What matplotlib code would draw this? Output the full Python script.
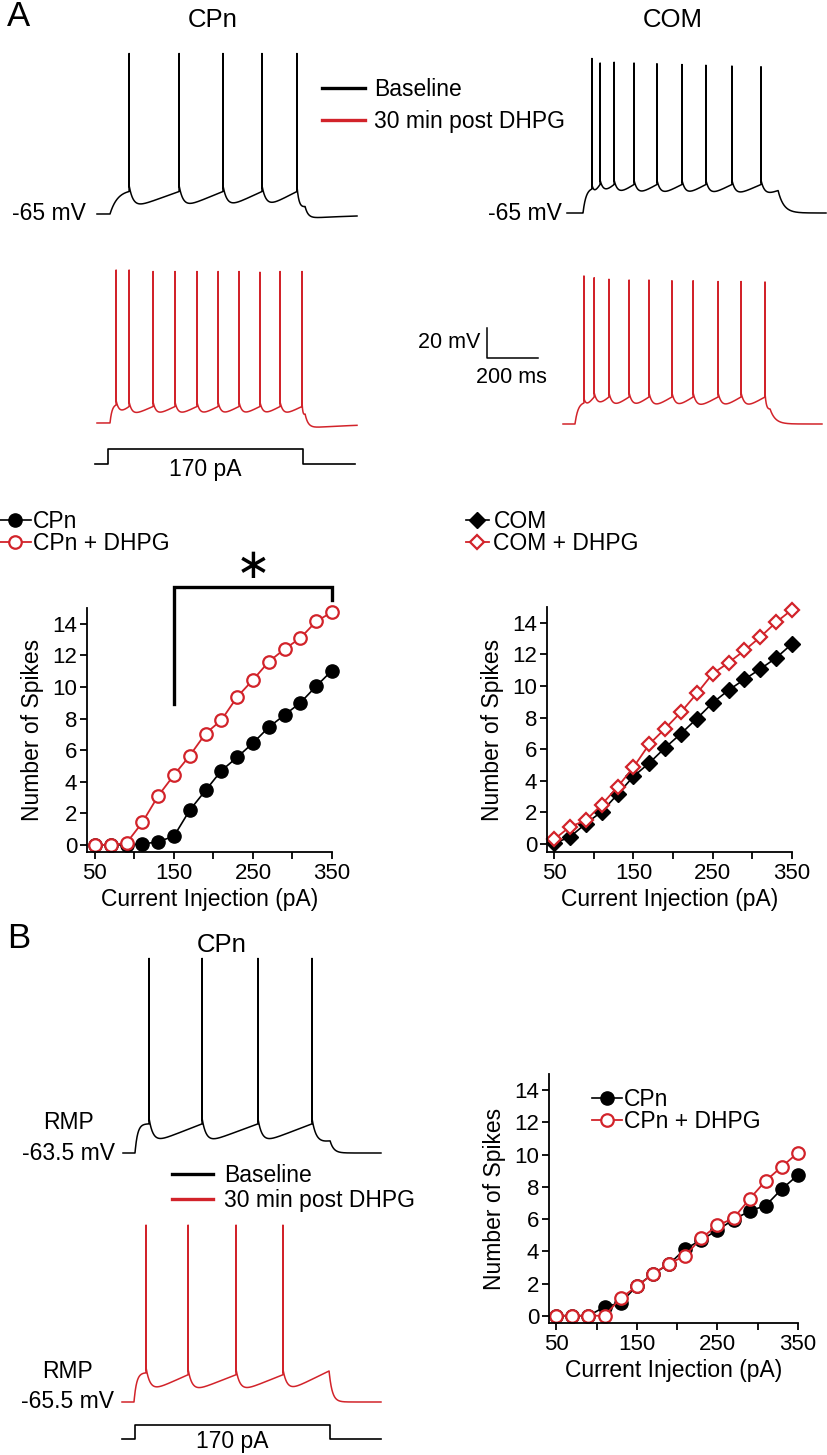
import numpy as np
import matplotlib
matplotlib.use("Agg")
import matplotlib.pyplot as plt
from matplotlib.lines import Line2D

plt.rcParams['font.family'] = ['Liberation Sans', 'DejaVu Sans']

# ---------------- data ----------------
current_pA = [50, 70, 90, 110, 130, 150, 170, 190, 210, 230, 250, 270, 290, 310, 330, 350]
cpn_spikes = [0, 0, 0, 0.05, 0.2, 0.55, 2.2, 3.45, 4.7, 5.55, 6.45, 7.45, 8.23, 9.0, 10.05, 11.04]
cpn_dhpg_spikes = [0, 0, 0.12, 1.42, 3.1, 4.42, 5.65, 7.05, 7.9, 9.37, 10.45, 11.6, 12.4, 13.1, 14.15, 14.74]
com_spikes = [0.05, 0.45, 1.3, 2.05, 3.15, 4.28, 5.13, 6.1, 6.99, 7.94, 8.94, 9.74, 10.42, 11.08, 11.78, 12.67]
com_dhpg_spikes = [0.3, 1.1, 1.5, 2.5, 3.62, 4.86, 6.32, 7.31, 8.35, 9.53, 10.78, 11.48, 12.25, 13.1, 14.04, 14.83]
b_cpn_spikes = [0, 0, 0, 0.55, 0.8, 1.85, 2.6, 3.2, 4.15, 4.7, 5.32, 5.96, 6.5, 6.84, 7.87, 8.73]
b_cpn_dhpg_spikes = [0, 0, 0, 0, 1.1, 1.82, 2.6, 3.23, 3.73, 4.82, 5.6, 6.05, 7.25, 8.38, 9.25, 10.12]

xticks = [50, 100, 150, 200, 250, 300, 350]
xticklabels = ['50', '', '150', '', '250', '', '350']
yticks = [0, 2, 4, 6, 8, 10, 12, 14]

# example traces: spike times (ms after step onset) and voltage levels (mV)
step_ms = 765
step_pA = 170
a_cpn_base_times = [75, 271, 443, 596, 733]
a_cpn_dhpg_times = [24, 75, 169, 255, 341, 424, 506, 588, 667, 753]
a_com_base_times = [35, 67, 122, 200, 290, 388, 482, 584, 698]
a_com_dhpg_times = [35, 75, 133, 212, 290, 380, 463, 561, 651, 745]
b_cpn_base_times = [55, 263, 482, 694]
b_cpn_dhpg_times = [47, 212, 400, 584]
a_com_base_peaks = [38, 35, 35.5, 35, 34.5, 34, 33.5, 33, 32.5]
a_com_dhpg_peaks = [33.7, 32.5, 31.5, 31, 31, 30.5, 30.5, 30, 30, 29.7]
a_cpn_dhpg_peaks = [37, 37, 36, 36, 36, 36, 36, 35.5, 36, 36]

RED = '#d2232a'
W, H = 828, 1455
fig = plt.figure(figsize=(W / 100, H / 100), dpi=100)


def px_axes(x0, y0, x1, y1):
    return fig.add_axes([x0 / W, 1 - y1 / H, (x1 - x0) / W, (y1 - y0) / H])


def scaled_axes(x0, y0, x1, y1, ox, oy, vx, vy, sx, sy):
    ax = px_axes(x0, y0, x1, y1)
    ax.set_xlim(vx + (x0 - ox) / sx, vx + (x1 - ox) / sx)
    ax.set_ylim(vy - (y1 - oy) / sy, vy + (oy - y0) / sy)
    ax.axis('off')
    return ax


def build_trace(pre, post, dur, spikes, rest, thr0, thr, trough, peaks,
                end_level, undershoot, tau_off, tau_on=15.0, adp=4.0, tau_d=16.0):
    t = np.arange(-pre, post, 0.2)
    v = np.full(t.shape, float(rest))
    s = np.asarray(spikes, float)
    m = (t >= 0) & (t < s[0])
    frac = (1 - np.exp(-t[m] / tau_on)) / (1 - np.exp(-s[0] / tau_on))
    v[m] = rest + (thr0 - rest) * frac
    for i, a in enumerate(s):
        last = i == len(s) - 1
        b = dur if last else s[i + 1]
        target = end_level if last else thr
        D = b - a
        m = (t >= a) & (t < b)
        u = t[m] - a
        start = (thr0 if i == 0 else thr) + adp
        td = min(tau_d, D / 4.0)
        ramp = trough + (target - trough) * u / D
        dec = np.exp(-u / td) - np.exp(-D / td) * u / D
        v[m] = ramp + (start - trough) * dec
    m = t >= dur
    u = t[m] - dur
    v[m] = (rest + (end_level - rest) * np.exp(-u / tau_off)
            - undershoot * (1 - np.exp(-u / tau_off)) * np.exp(-u / 250))
    pk = np.broadcast_to(np.asarray(peaks, float), s.shape)
    for a, p in zip(s, pk):
        i = np.searchsorted(t, a)
        v[i] = p
    return t, v


def trace_panel(onset_px, rest_px, x0, x1, rest, pxmv, color, label, label_off, rmp=False, **kw):
    pxms = 0.255
    ax = scaled_axes(x0 - 2, rest_px - 215, x1 + 2, rest_px + 25, onset_px, rest_px, 0, rest, pxms, pxmv)
    pre = (onset_px - x0) / pxms
    post = (x1 - onset_px) / pxms
    t, v = build_trace(pre, post, step_ms, rest=rest, **kw)
    ax.plot(t, v, color=color, lw=1.1, solid_joinstyle='round')
    ax.annotate(label, xy=(-pre, rest), xytext=(-label_off, 0), textcoords='offset points',
                ha='right', va='center', fontsize=16.5, annotation_clip=False)
    if rmp:
        ax.annotate('RMP', xy=(-pre, rest), xytext=(-label_off - 33, 22), textcoords='offset points',
                    ha='center', va='center', fontsize=16.5, annotation_clip=False)
    return ax


def step_panel(onset_px, low_px, high_px, x0, x1, text_dy):
    pxms = 0.255
    pxpa = (low_px - high_px) / step_pA
    ax = scaled_axes(x0 - 2, high_px - 10, x1 + 2, low_px + 10, onset_px, low_px, 0, 0, pxms, pxpa)
    pre = (onset_px - x0) / pxms
    post = (x1 - onset_px) / pxms
    ax.plot([-pre, 0, 0, step_ms, step_ms, post], [0, 0, step_pA, step_pA, 0, 0], color='black', lw=1.2)
    ax.annotate(f'{step_pA} pA', xy=(step_ms / 2, 0), xytext=(0, text_dy), textcoords='offset points',
                ha='center', va='center', fontsize=16.5, annotation_clip=False)


def fi_axes(box, xlim, ylim):
    ax = px_axes(*box)
    ax.set_xlim(*xlim)
    ax.set_ylim(*ylim)
    for sp in ['top', 'right']:
        ax.spines[sp].set_visible(False)
    for sp in ['left', 'bottom']:
        ax.spines[sp].set_linewidth(1.3)
    ax.set_xticks(xticks)
    ax.set_xticklabels(xticklabels)
    ax.set_yticks(yticks)
    ax.tick_params(direction='out', length=5, width=1.3, labelsize=16, pad=2)
    ax.tick_params(axis='x', pad=3)
    ax.set_xlabel('Current Injection (pA)', fontsize=16.5, labelpad=3)
    ax.set_ylabel('Number of Spikes', fontsize=16.5, labelpad=6)
    ax.patch.set_alpha(0)
    return ax


circ_k = dict(color='black', marker='o', markersize=9.5, lw=1.2, markerfacecolor='black', clip_on=False)
circ_r = dict(color=RED, marker='o', markersize=9, lw=1.3, markerfacecolor='white', markeredgewidth=1.6, clip_on=False)
dia_k = dict(color='black', marker='D', markersize=8, lw=1.2, markerfacecolor='black', clip_on=False)
dia_r = dict(color=RED, marker='D', markersize=7.5, lw=1.3, markerfacecolor='white', markeredgewidth=1.6, clip_on=False)

# ---------------- Panel A: F-I curves ----------------
ax1 = fi_axes((87, 608, 332, 852), (40, 350), (-0.45, 15))
h1, = ax1.plot(current_pA, cpn_spikes, **circ_k)
h2, = ax1.plot(current_pA, cpn_dhpg_spikes, **circ_r)
ax1.plot([150, 150, 350, 350], [8.9, 16.3, 16.3, 15.5], color='black', lw=2.4, clip_on=False,
         solid_joinstyle='miter')
ax1.text(250, 17.6, '\u2217', fontsize=30, ha='center', va='center', clip_on=False)
fig.legend([h1, h2], ['CPn', 'CPn + DHPG'], loc='upper left', bbox_to_anchor=(0 / W, 1 - 510 / H),
           frameon=False, borderpad=0, borderaxespad=0, handlelength=1.35, handletextpad=0.1,
           labelspacing=-0.05, fontsize=16.5)

ax2 = fi_axes((547, 607, 792, 852), (41, 350), (-0.5, 15))
h3, = ax2.plot(current_pA, com_spikes, **dia_k)
h4, = ax2.plot(current_pA, com_dhpg_spikes, **dia_r)
fig.legend([h3, h4], ['COM', 'COM + DHPG'], loc='upper left', bbox_to_anchor=(466 / W, 1 - 510 / H),
           frameon=False, borderpad=0, borderaxespad=0, handlelength=1.0, handletextpad=0.2,
           labelspacing=-0.05, fontsize=16.5)

# ---------------- Panel B: F-I curve ----------------
ax3 = fi_axes((549, 1074, 798, 1323), (41, 350), (-0.45, 15))
h5, = ax3.plot(current_pA, b_cpn_spikes, **circ_k)
h6, = ax3.plot(current_pA, b_cpn_dhpg_spikes, **circ_r)
ax3.legend([h5, h6], ['CPn', 'CPn + DHPG'], loc='upper left', bbox_to_anchor=(592 / W, 1 - 1088 / H),
           bbox_transform=fig.transFigure, frameon=False, borderpad=0, borderaxespad=0,
           handlelength=1.3, handletextpad=0.1, labelspacing=-0.05, fontsize=16.5)

# ---------------- Panel A traces ----------------
trace_panel(110, 214, 97, 357, -65, 1.5, 'black', '-65 mV', 8, spikes=a_cpn_base_times,
            thr0=-50, thr=-50, trough=-62, peaks=42, end_level=-60, undershoot=3, tau_off=12,
            tau_on=30)
trace_panel(110, 423, 97, 357, -65, 1.5, RED, '', 8, spikes=a_cpn_dhpg_times,
            thr0=-53, thr=-54, trough=-61, peaks=a_cpn_dhpg_peaks, end_level=-59, undershoot=3.5,
            tau_off=12, tau_on=8, adp=3, tau_d=12)
trace_panel(583, 213, 567, 826, -65, 1.5, 'black', '-65 mV', 4, spikes=a_com_base_times,
            thr0=-49, thr=-46, trough=-54.5, peaks=a_com_base_peaks, end_level=-50, undershoot=0,
            tau_off=22, tau_on=12, adp=3, tau_d=14)
trace_panel(575, 424, 563, 822, -65, 1.5, RED, '', 8, spikes=a_com_dhpg_times,
            thr0=-51, thr=-47, trough=-56, peaks=a_com_dhpg_peaks, end_level=-55, undershoot=0,
            tau_off=20, tau_on=12, adp=3, tau_d=14)
step_panel(108, 464, 449, 95, 355, -4)

# scale bar
sb = scaled_axes(470, 315, 560, 370, 487, 358, 0, 0, 0.255, 1.5)
sb.plot([0, 0, 200], [20, 0, 0], color='black', lw=1.1)
sb.annotate('20 mV', xy=(0, 10), xytext=(-5, 0), textcoords='offset points', ha='right', va='center',
            fontsize=15.5, annotation_clip=False)
sb.annotate('200 ms', xy=(95, 0), xytext=(0, -14), textcoords='offset points', ha='center', va='center',
            fontsize=15.5, annotation_clip=False)

leg_a = [Line2D([], [], color='black', lw=2.4), Line2D([], [], color=RED, lw=2.4)]
fig.legend(leg_a, ['Baseline', '30 min post DHPG'], loc='upper left', bbox_to_anchor=(322 / W, 1 - 78 / H),
           frameon=False, borderpad=0, borderaxespad=0, handlelength=1.87, handletextpad=0.4,
           labelspacing=0.4, fontsize=16.5)

# ---------------- Panel B traces ----------------
trace_panel(135, 1153, 123, 381, -63.5, 1.88, 'black', '-63.5 mV', 6, rmp=True, spikes=b_cpn_base_times,
            thr0=-48, thr=-48, trough=-59, peaks=40, end_level=-57, undershoot=0, tau_off=14,
            tau_on=10, adp=3)
trace_panel(134, 1402, 122, 381, -65.5, 1.88, RED, '-65.5 mV', 6, rmp=True, spikes=b_cpn_dhpg_times,
            thr0=-50, thr=-51, trough=-61, peaks=28.6, end_level=-49, undershoot=0, tau_off=12,
            tau_on=10, adp=3)
step_panel(135, 1439, 1425, 122, 381, -1.5)
fig.legend(leg_a, ['Baseline', '30 min post DHPG'], loc='upper left', bbox_to_anchor=(172 / W, 1 - 1164 / H),
           frameon=False, borderpad=0, borderaxespad=0, handlelength=1.8, handletextpad=0.48,
           labelspacing=0.1, fontsize=16.5)

# ---------------- titles / panel letters ----------------
fig.text(7 / W, 1 - 17 / H, 'A', fontsize=25, ha='left', va='center')
fig.text(213 / W, 1 - 20 / H, 'CPn', fontsize=18.5, ha='center', va='center')
fig.text(673 / W, 1 - 20 / H, 'COM', fontsize=18.5, ha='center', va='center')
fig.text(7 / W, 1 - 938 / H, 'B', fontsize=25, ha='left', va='center')
fig.text(222 / W, 1 - 945 / H, 'CPn', fontsize=18.5, ha='center', va='center')

fig.savefig('out.png', dpi=100)
